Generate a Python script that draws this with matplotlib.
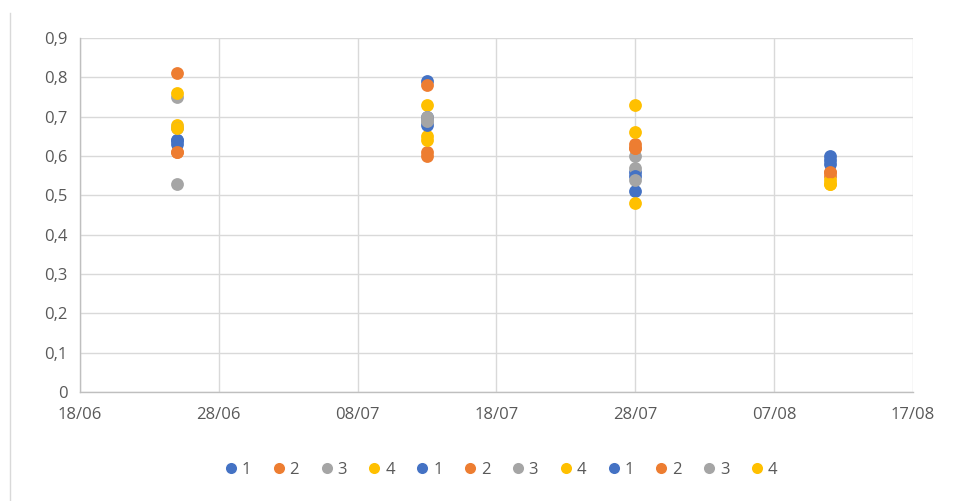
import matplotlib
matplotlib.use("Agg")
import matplotlib.pyplot as plt
import matplotlib.dates as mdates
from matplotlib.lines import Line2D
import numpy as np
import datetime as dt

plt.rcParams['font.family'] = ['Open Sans', 'DejaVu Sans']

dates = [dt.date(2020, 6, 25), dt.date(2020, 7, 13), dt.date(2020, 7, 28), dt.date(2020, 8, 11)]
series_names = ["1", "2", "3", "4", "1", "2", "3", "4", "1", "2", "3", "4"]
nan = float("nan")
s1 = [0.64, 0.79, 0.56, 0.60]
s2 = [0.81, 0.78, 0.63, 0.56]
s3 = [0.75, 0.69, 0.60, nan]
s4 = [0.76, 0.73, 0.73, 0.53]
s5 = [0.63, 0.70, 0.51, 0.59]
s6 = [0.61, 0.61, 0.62, 0.55]
s7 = [0.53, 0.70, 0.57, nan]
s8 = [0.68, 0.65, 0.66, 0.54]
s9 = [0.64, 0.68, 0.55, 0.58]
s10 = [0.61, 0.60, 0.62, 0.56]
s11 = [0.67, 0.69, 0.54, nan]
s12 = [0.67, 0.64, 0.48, 0.53]
all_series = [s1, s2, s3, s4, s5, s6, s7, s8, s9, s10, s11, s12]
colors = ["#4472C4", "#ED7D31", "#A5A5A5", "#FFC000"] * 3

fig = plt.figure(figsize=(9.58, 5.01), dpi=100)
ax = fig.add_axes([80/958, (501-392)/501, (913-80)/958, (392-38)/501])

for vals, name, c in zip(all_series, series_names, colors):
    ax.scatter(dates, vals, s=85, color=c, label=name, zorder=3, linewidths=0)

ax.set_ylim(0, 0.9)
ax.set_yticks(np.arange(0, 0.91, 0.1))
ax.set_yticklabels(["0"] + [f"0,{i}" for i in range(1, 10)])
ax.set_xlim(dt.date(2020, 6, 18), dt.date(2020, 8, 17))
xt = [dt.date(2020, 6, 18) + dt.timedelta(days=10*i) for i in range(7)]
ax.set_xticks(xt)
ax.xaxis.set_major_formatter(mdates.DateFormatter("%d/%m"))

ax.grid(True, color="#D9D9D9", linewidth=1, zorder=0)
ax.set_axisbelow(True)
for sp in ["top", "right"]:
    ax.spines[sp].set_visible(False)
for sp in ["left", "bottom"]:
    ax.spines[sp].set_color("#BFBFBF")
    ax.spines[sp].set_linewidth(1)
ax.tick_params(length=0, labelsize=12, colors="#595959", pad=9)
ax.tick_params(axis='x', pad=11)

handles = [Line2D([0], [0], marker='o', color='w', markerfacecolor=c, markersize=9, linewidth=0)
           for c in colors]
fig.legend(handles, series_names, loc="center", bbox_to_anchor=(0.522, 1 - 470/501), ncol=12,
           frameon=False, fontsize=12, handletextpad=0.15, columnspacing=1.15,
           handlelength=1.0, labelcolor="#595959")

fig.add_artist(Line2D([10/958, 10/958], [0, 1 - 13/501], transform=fig.transFigure,
                      color="#D9D9D9", linewidth=1))

fig.savefig("out.png", dpi=100)
